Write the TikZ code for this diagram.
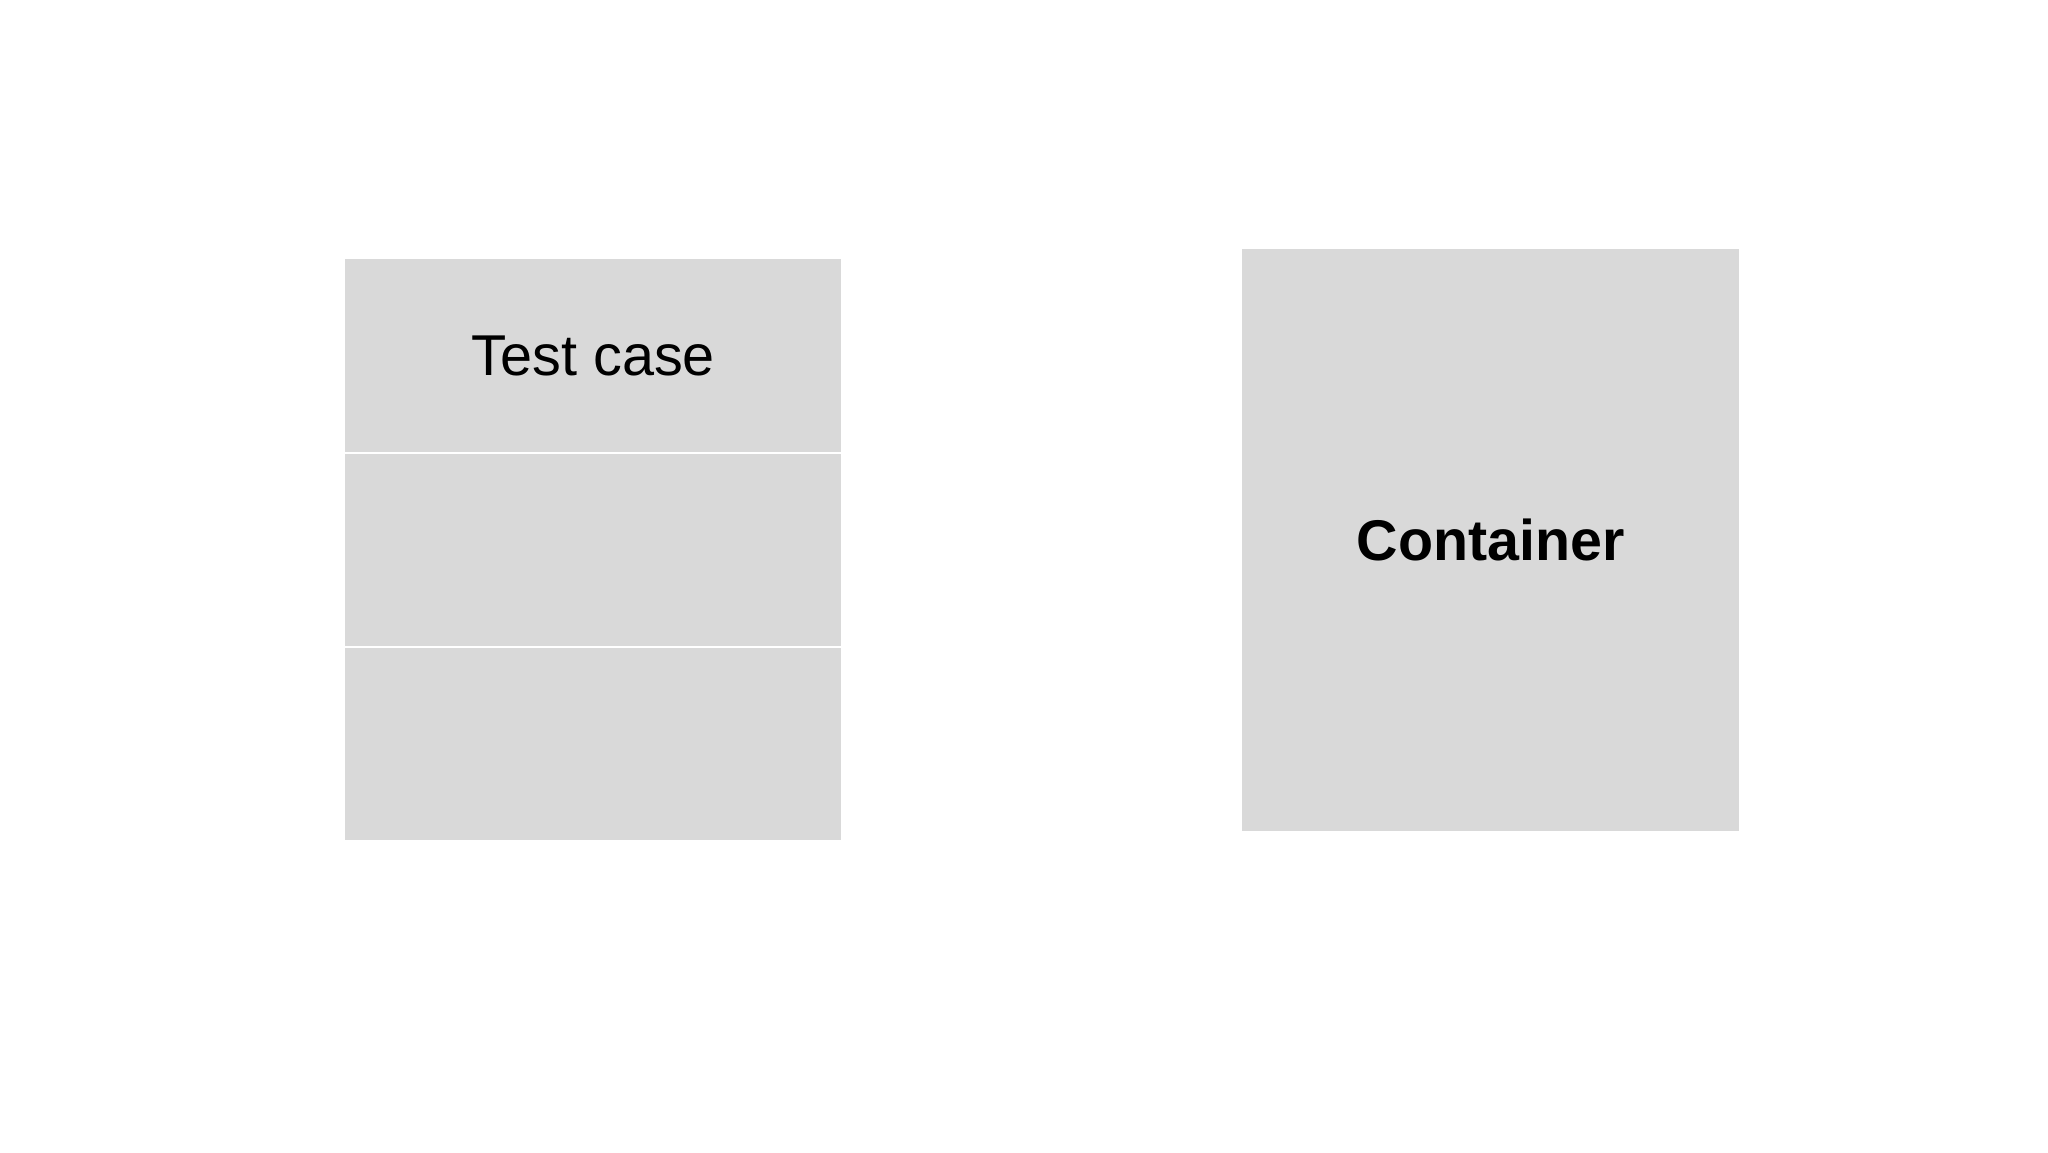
\documentclass[tikz,border=0pt]{standalone}
\usepackage{fontspec}
\setmainfont{Liberation Sans}
\usetikzlibrary{positioning}
\definecolor{cellgray}{HTML}{D9D9D9}

\begin{document}
\begin{tikzpicture}[
        x=0.5pt, y=-0.5pt,
        cell/.style={fill=cellgray, inner sep=0pt, minimum width=248pt, minimum height=96.5pt, font=\fontsize{28.8}{34}\selectfont},
        bigbox/.style={fill=cellgray, inner sep=0pt, minimum width=248.5pt, minimum height=291pt, font=\fontsize{28.7}{34}\selectfont\bfseries},
        divider/.style={white, line width=1pt}
    ]
        \path[use as bounding box] (0,0) rectangle (2048,1152);
        \node[cell, anchor=north west] (test) at (345,259) {Test case};
        \node[cell, below=0pt of test] (mid) {};
        \node[cell, below=0pt of mid] (low) {};
        \node[bigbox, anchor=north west] (container) at (1242,249) {Container};
        \draw[divider] (test.south west) -- (test.south east);
        \draw[divider] (mid.south west) -- (mid.south east);
    \end{tikzpicture}
\end{document}
